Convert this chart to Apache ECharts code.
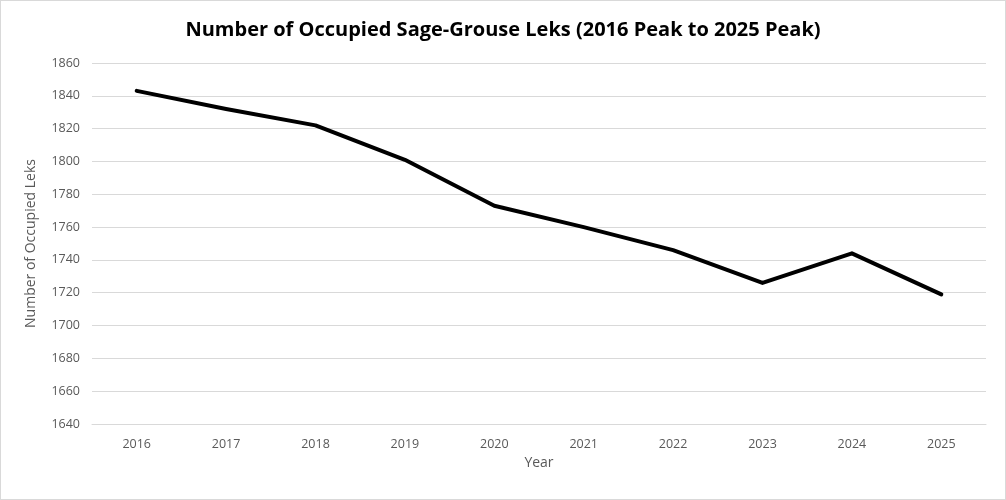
<!DOCTYPE html>
<html lang="en">

<head>
    <meta charset="UTF-8">
    <title>Occupied Sage-Grouse Leks</title>
    <script src="https://cdn.jsdelivr.net/npm/echarts@6/dist/echarts.min.js"></script>
    <style>
        html, body { margin: 0; padding: 0; background: #fff; }
        #main { width: 1004px; height: 498px; border: 1px solid #d9d9d9; }
    </style>
</head>

<body>
    <div id="main"></div>
    <script>
        let years = ['2016', '2017', '2018', '2019', '2020', '2021', '2022', '2023', '2024', '2025']
        let occupiedLeks = [1843, 1832, 1822, 1801, 1773, 1760, 1746, 1726, 1744, 1719]
        let yMin = 1640
        let yMax = 1860
        let yStep = 20
    </script>
    <script>
        var chartDom = document.getElementById('main');
        var myChart = echarts.init(chartDom);
        var option;

        var font = 'Open Sans, Liberation Sans, sans-serif';

        option = {
            animation: false,
            title: {
                text: 'Number of Occupied Sage-Grouse Leks (2016 Peak to 2025 Peak)',
                left: 'center',
                top: 14,
                textStyle: {
                    fontFamily: font,
                    fontSize: 20,
                    fontWeight: 'bold',
                    color: '#000'
                }
            },
            grid: {
                left: 91,
                right: 19,
                top: 62,
                bottom: 75
            },
            xAxis: {
                type: 'category',
                data: years,
                name: 'Year',
                nameLocation: 'middle',
                nameGap: 32,
                nameTextStyle: { fontFamily: font, fontSize: 14, color: '#595959' },
                axisLine: { show: true, lineStyle: { color: '#d9d9d9' } },
                axisTick: { show: false },
                axisLabel: { fontFamily: font, fontSize: 12.5, color: '#595959', margin: 14 }
            },
            yAxis: {
                type: 'value',
                min: yMin,
                max: yMax,
                interval: yStep,
                name: 'Number of Occupied Leks',
                nameLocation: 'middle',
                nameGap: 54,
                nameTextStyle: { fontFamily: font, fontSize: 14, color: '#595959' },
                axisLine: { show: false },
                axisTick: { show: false },
                axisLabel: {
                    fontFamily: font,
                    fontSize: 12.5,
                    color: '#595959',
                    margin: 12,
                    formatter: function (v) { return String(v); }
                },
                splitLine: { lineStyle: { color: '#d9d9d9', width: 1 } }
            },
            series: [
                {
                    name: 'Occupied Leks',
                    type: 'line',
                    data: occupiedLeks,
                    showSymbol: false,
                    symbol: 'none',
                    lineStyle: { color: '#000', width: 4, cap: 'round', join: 'round' }
                }
            ]
        };

        option && myChart.setOption(option);
    </script>
</body>

</html>
